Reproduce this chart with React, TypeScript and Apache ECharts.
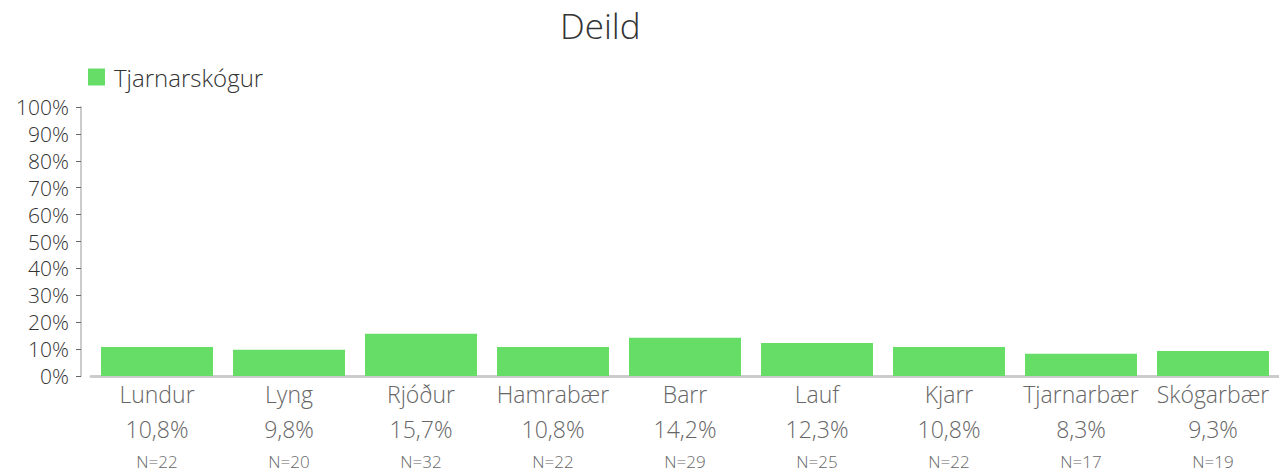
import React, { useEffect, useRef } from "react";
import * as echarts from "echarts";

const categories = ["Lundur", "Lyng", "Rjóður", "Hamrabær", "Barr", "Lauf", "Kjarr", "Tjarnarbær", "Skógarbær"];
const values = [10.8, 9.8, 15.7, 10.8, 14.2, 12.3, 10.8, 8.3, 9.3];
const counts = [22, 20, 32, 22, 29, 25, 22, 17, 19];
const yTicks = [0, 10, 20, 30, 40, 50, 60, 70, 80, 90, 100];
const seriesName = "Tjarnarskógur";
const title = "Deild";

const FONT = "'Open Sans', Lato, sans-serif";

export default function App() {
  const ref = useRef<HTMLDivElement>(null);
  useEffect(() => {
    if (!ref.current) return;
    const chart = echarts.init(ref.current, null, { renderer: "svg" });
    chart.setOption({
      animation: false,
      textStyle: { fontFamily: FONT },
      title: {
        text: title,
        left: 555,
        top: 3,
        textStyle: { fontFamily: FONT, fontSize: 35, fontWeight: 300, color: "#333" },
      },
      legend: {
        left: 83,
        top: 60,
        itemWidth: 17,
        itemHeight: 17,
        itemGap: 10,
        icon: "rect",
        textStyle: { fontFamily: FONT, fontSize: 24, fontWeight: 300, color: "#333", padding: [0, 0, 0, 4] },
        data: [seriesName],
      },
      grid: { left: 91, right: 0, top: 107, bottom: 95 },
      xAxis: {
        type: "category",
        data: categories,
        axisLine: { show: true, lineStyle: { color: "#ccc", width: 3 } },
        axisTick: { show: false },
        axisLabel: {
          interval: 0,
          margin: 0,
          formatter: (v: string, i: number) =>
            `{a|${v}}\n{b|${values[i].toFixed(1).replace(".", ",")}%}\n{c|N=${counts[i]}}`,
          rich: {
            a: { fontFamily: FONT, fontSize: 23, fontWeight: 300, color: "#666", lineHeight: 36 },
            b: { fontFamily: FONT, fontSize: 23, fontWeight: 300, color: "#666", lineHeight: 34 },
            c: { fontFamily: FONT, fontSize: 17, fontWeight: 300, color: "#666", lineHeight: 30 },
          },
        },
      },
      yAxis: {
        type: "value",
        min: yTicks[0],
        max: yTicks[yTicks.length - 1],
        interval: 10,
        offset: 10,
        axisLine: { show: true, lineStyle: { color: "#ccc", width: 2 } },
        axisTick: { show: true, length: 5, lineStyle: { color: "#666" } },
        splitLine: { show: false },
        axisLabel: {
          margin: 12,
          fontFamily: FONT,
          fontSize: 21,
          lineHeight: 22,
          fontWeight: 300,
          color: "#333",
          formatter: (v: number) => `${v}%`,
        },
      },
      series: [
        {
          name: seriesName,
          type: "bar",
          data: values,
          barWidth: 112,
          itemStyle: { color: "#66dd66" },
        },
      ],
    });
    return () => chart.dispose();
  }, []);
  return (
    <div
      ref={ref}
      style={{ position: "fixed", left: 0, top: 0, width: 1279, height: 471, background: "#fff" }}
    />
  );
}
